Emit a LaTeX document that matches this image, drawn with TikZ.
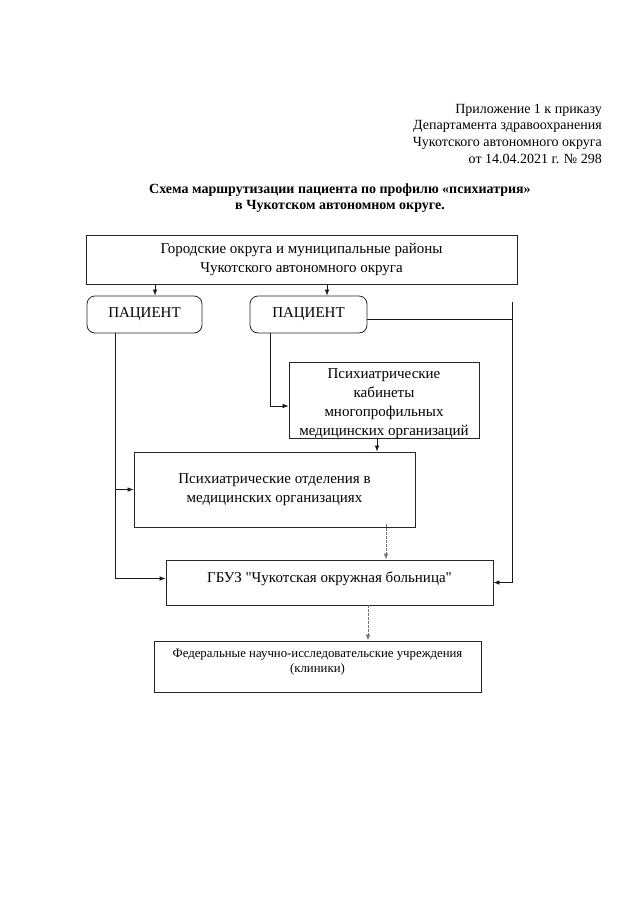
\documentclass[tikz,border=0pt]{standalone}
\usepackage{fontspec}
\setmainfont{Liberation Serif}[Ligatures=TeXOff]
\usetikzlibrary{arrows.meta}
\begin{document}
\begin{tikzpicture}[x=1pt,y=-1pt,
  box/.style={draw=black!85,line width=0.8pt,inner sep=0pt,align=center,font=\fontsize{15}{19}\selectfont},
  rbox/.style={box,rounded corners=8pt},
  line/.style={draw=black!90,line width=0.7pt},
  arr/.style={line,-{Latex[length=6pt,width=4.5pt]}},
  darr/.style={draw=black!55,line width=0.8pt,dash pattern=on 2.5pt off 1.5pt,-{Latex[length=6pt,width=4.5pt]}},
  lbl/.style={inner sep=0pt,align=center}]
\useasboundingbox[fill=white] (0,0) rectangle (640,905);
% header
\node[lbl,anchor=base east,align=right,font=\fontsize{14}{16.8}\selectfont] (hdr) at (602,163.5)
  {Приложение 1 к приказу\\Департамента здравоохранения\\Чукотского автономного округа\\от 14.04.2021 г. № 298};
\node[lbl,anchor=base,font=\bfseries\fontsize{14}{16}\selectfont] (title) at (340,209)
  {Схема маршрутизации пациента по профилю «психиатрия»\\в Чукотском автономном округе.};
% boxes
\node[box,minimum width=431pt,minimum height=49pt] (top) at (301.5,259.5)
  {Городские округа и муниципальные районы\\Чукотского автономного округа};
\node[rbox,minimum width=115pt,minimum height=37pt] (p1) at (144.5,314.5) {ПАЦИЕНТ};
\node[rbox,minimum width=117pt,minimum height=37pt] (p2) at (308.5,314.5) {ПАЦИЕНТ};
\node[box,minimum width=190pt,minimum height=76pt] (cab) at (384,400) {};
\node[lbl,font=\fontsize{15}{19}\selectfont] (cabt) at (384,403.5)
  {Психиатрические\\кабинеты\\многопрофильных\\медицинских организаций};
\node[box,minimum width=281pt,minimum height=75pt] (dep) at (274.5,489.5)
  {Психиатрические отделения в\\медицинских организациях};
\node[box,minimum width=327pt,minimum height=45pt] (gb) at (329.5,582.5) {};
\node[lbl,anchor=base,font=\fontsize{15}{19}\selectfont] (gbt) at (329.5,582) {ГБУЗ "Чукотская окружная больница"};
\node[box,minimum width=327pt,minimum height=51pt] (fed) at (317.5,666.5) {};
\node[lbl,anchor=base,font=\fontsize{12.8}{15}\selectfont] (fedt) at (317.5,672)
  {Федеральные научно-исследовательские учреждения\\(клиники)};
% coordinates
\coordinate (a1) at (155,0);
\coordinate (a2) at (327,0);
\coordinate (L) at (115,0);
\coordinate (M) at (270,0);
\coordinate (R) at (512,302);
\coordinate (N) at (377,0);
\coordinate (D1) at (386,0);
\coordinate (D2) at (368,0);
% connectors
\draw[arr] (top.south -| a1) -- (p1.north -| a1);
\draw[arr] (top.south -| a2) -- (p2.north -| a2);
\draw[line] ([yshift=-4.5pt]p2.east) -- ([yshift=-4.5pt]p2.east -| R);
\draw[arr] (R) |- (gb.east);
\draw[arr] (p1.south -| L) |- ([yshift=4pt]gb.west);
\draw[arr] (L |- dep.west) -- (dep.west);
\draw[arr] (p2.south -| M) |- ([yshift=-6pt]cab.west);
\draw[arr] (cab.south -| N) -- (dep.north -| N);
\draw[darr] ([yshift=3pt]dep.south -| D1) -- (gb.north -| D1);
\draw[darr] (gb.south -| D2) -- (fed.north -| D2);
\end{tikzpicture}
\end{document}
